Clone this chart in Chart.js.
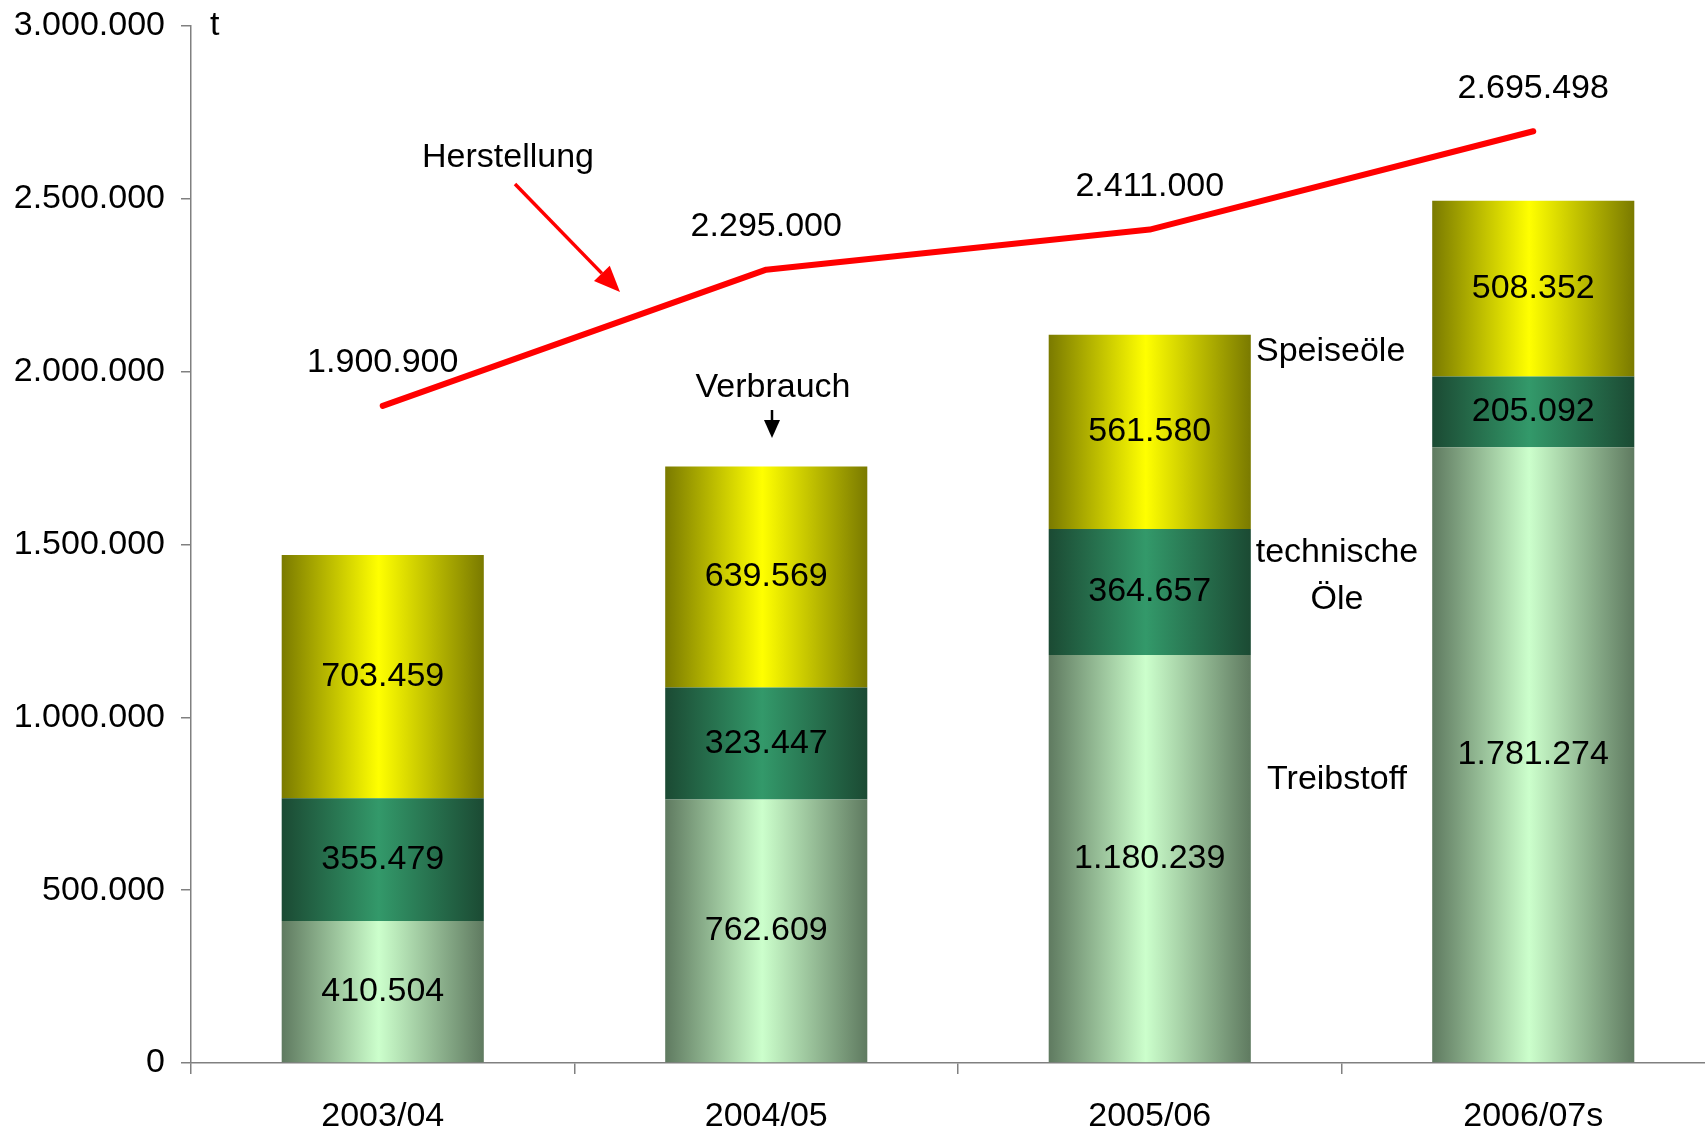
<!DOCTYPE html>
<html>
<head>
<meta charset="utf-8">
<script src="https://cdn.jsdelivr.net/npm/chart.js@4.4.1/dist/chart.umd.min.js"></script>
<style>
  html, body { margin: 0; padding: 0; background: #fff; overflow: hidden; }
  #wrap { width: 1725px; height: 1134px; }
</style>
</head>
<body>
<div id="wrap"><canvas id="oilChart" width="1725" height="1134"></canvas></div>
<script>
// values
const years = ['2003/04', '2004/05', '2005/06', '2006/07s'];
const treibstoff = [410504, 762609, 1180239, 1781274];
const technischeOele = [355479, 323447, 364657, 205092];
const speiseoele = [703459, 639569, 561580, 508352];
const herstellung = [1900900, 2295000, 2411000, 2695498];
const yTicks = [0, 500000, 1000000, 1500000, 2000000, 2500000, 3000000];

const FONT = '"Liberation Sans", Arial, Helvetica, sans-serif';
const BAR_PCT = 0.527;

function fmt(v) {
    return String(v).replace(/\B(?=(\d{3})+(?!\d))/g, '.');
}

// horizontal "cylinder" shading like the old office charts
function barGradient(edge, mid) {
    return function(ctx) {
        const chart = ctx.chart;
        const xs = chart.scales.x;
        if (!xs || ctx.dataIndex === undefined) return mid;
        const cx = xs.getPixelForValue(ctx.dataIndex);
        const half = xs.width / years.length * BAR_PCT / 2;
        if (!isFinite(cx) || !isFinite(half) || half <= 0) return mid;
        const g = chart.ctx.createLinearGradient(cx - half, 0, cx + half, 0);
        g.addColorStop(0, edge);
        g.addColorStop(0.48, mid);
        g.addColorStop(1, edge);
        return g;
    };
}

function arrow(c, x1, y1, x2, y2, color, w, headLen, headW) {
    const a = Math.atan2(y2 - y1, x2 - x1);
    const bx = x2 - headLen * Math.cos(a);
    const by = y2 - headLen * Math.sin(a);
    c.strokeStyle = color;
    c.fillStyle = color;
    c.lineWidth = w;
    c.beginPath();
    c.moveTo(x1, y1);
    c.lineTo(bx, by);
    c.stroke();
    c.beginPath();
    c.moveTo(x2, y2);
    c.lineTo(bx + headW * Math.sin(a), by - headW * Math.cos(a));
    c.lineTo(bx - headW * Math.sin(a), by + headW * Math.cos(a));
    c.closePath();
    c.fill();
    c.fillStyle = '#000';
}

const labelPlugin = {
    id: 'labels',
    afterDatasetsDraw(chart) {
        const c = chart.ctx;
        c.save();
        c.font = '34px ' + FONT;
        c.fillStyle = '#000';
        c.textAlign = 'center';
        c.textBaseline = 'middle';
        chart.data.datasets.forEach((ds, i) => {
            const meta = chart.getDatasetMeta(i);
            meta.data.forEach((el, j) => {
                if (ds.type === 'line') {
                    c.fillText(fmt(ds.data[j]), el.x, el.y - 43);
                } else {
                    c.fillText(fmt(ds.data[j]), el.x, (el.y + el.base) / 2);
                }
            });
        });

        // unit and annotations
        c.textAlign = 'left';
        c.fillText('t', 210, 26);
        c.fillText('Herstellung', 422, 158);
        c.fillText('Speiseöle', 1256, 352);
        c.textAlign = 'center';
        c.fillText('Verbrauch', 773, 388);
        c.fillText('technische', 1337, 553);
        c.fillText('Öle', 1337, 600);
        c.fillText('Treibstoff', 1337, 780);

        // red arrow to the line
        arrow(c, 515, 184, 620, 292, '#ff0000', 3.5, 26, 11);
        // small black arrow down
        arrow(c, 772, 410, 772, 438, '#000000', 2.5, 18, 8);
        c.restore();
    }
};

const ctx = document.getElementById('oilChart').getContext('2d');
new Chart(ctx, {
    data: {
        labels: years,
        datasets: [{
            type: 'line',
            label: 'Herstellung',
            data: herstellung,
            borderColor: '#ff0000',
            borderWidth: 6,
            borderCapStyle: 'round',
            borderJoinStyle: 'round',
            pointRadius: 0,
            tension: 0,
            stack: 'line',
            order: 0
        }, {
            type: 'bar',
            label: 'Treibstoff',
            data: treibstoff,
            backgroundColor: barGradient('#5f7a60', '#ccffcc'),
            stack: 'bars',
            order: 1
        }, {
            type: 'bar',
            label: 'technische Öle',
            data: technischeOele,
            backgroundColor: barGradient('#1b4a33', '#33996a'),
            stack: 'bars',
            order: 1
        }, {
            type: 'bar',
            label: 'Speiseöle',
            data: speiseoele,
            backgroundColor: barGradient('#7a7a00', '#ffff00'),
            stack: 'bars',
            order: 1
        }]
    },
    options: {
        responsive: false,
        animation: false,
        layout: { padding: { top: 26, left: 0, right: 0, bottom: 0 } },
        datasets: {
            bar: { barPercentage: BAR_PCT, categoryPercentage: 1 }
        },
        plugins: {
            legend: { display: false },
            tooltip: { enabled: false }
        },
        scales: {
            x: {
                stacked: true,
                offset: true,
                grid: {
                    offset: true,
                    drawOnChartArea: false,
                    drawTicks: true,
                    tickLength: 11,
                    color: '#808080',
                    lineWidth: 1.5
                },
                border: { color: '#808080', width: 1.5 },
                ticks: {
                    color: '#000',
                    padding: 22,
                    font: { family: FONT, size: 34 }
                },
                afterFit(scale) {
                    scale.height = 71;
                    scale.paddingLeft = 0;
                    scale.paddingRight = 0;
                }
            },
            y: {
                stacked: true,
                min: 0,
                max: 3000000,
                afterBuildTicks(scale) {
                    scale.ticks = yTicks.map(v => ({ value: v }));
                },
                grid: {
                    drawOnChartArea: false,
                    drawTicks: true,
                    tickLength: 10,
                    color: '#808080',
                    lineWidth: 1.5
                },
                border: { color: '#808080', width: 1.5 },
                ticks: {
                    color: '#000',
                    padding: 16,
                    font: { family: FONT, size: 34 },
                    callback: v => fmt(v)
                },
                afterFit(scale) {
                    scale.width = 191;
                    scale.paddingTop = 0;
                    scale.paddingBottom = 0;
                }
            }
        }
    },
    plugins: [labelPlugin]
});
</script>
</body>
</html>
